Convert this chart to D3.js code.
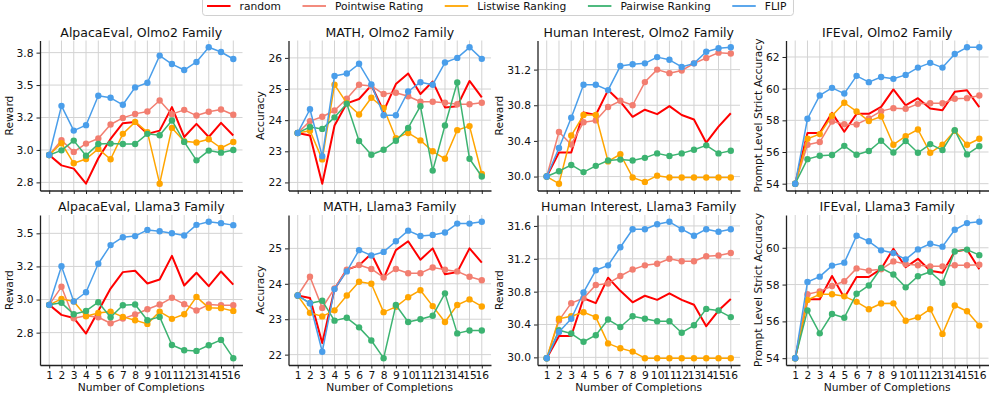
<!DOCTYPE html>
<html>
<head>
<meta charset="utf-8">
<script src="https://cdn.jsdelivr.net/npm/d3@7"></script>
<style>
  body { margin: 0; background: #fff; }
  svg { font-family: "DejaVu Sans", sans-serif; }
</style>
</head>
<body>
<svg id="chart" width="996" height="399"></svg>
<script>
// x categories
const completions = [1, 2, 3, 4, 5, 6, 7, 8, 9, 10, 11, 12, 13, 14, 15, 16];

const seriesNames = ["random", "Pointwise Rating", "Listwise Ranking", "Pairwise Ranking", "FLIP"];
const seriesColors = ["#ff0000", "#f27e70", "#ffa500", "#3cb371", "#4a9eea"];

// each panel: rows = random, pointwise, listwise, pairwise, FLIP
const alpacaOlmo2 = [
  [2.961, 2.881, 2.856, 2.740, 2.936, 3.085, 3.206, 3.216, 3.124, 3.149, 3.330, 3.100, 3.201, 3.100, 3.209, 3.111],
  [2.961, 3.075, 2.985, 3.049, 3.088, 3.196, 3.247, 3.278, 3.296, 3.381, 3.276, 3.309, 3.265, 3.294, 3.312, 3.271],
  [2.961, 3.052, 2.897, 2.930, 3.008, 2.928, 3.124, 3.216, 3.137, 2.740, 3.170, 3.067, 3.057, 3.082, 3.015, 3.062],
  [2.961, 2.997, 3.072, 2.956, 3.046, 3.049, 3.046, 3.046, 3.124, 3.113, 3.227, 3.062, 2.920, 2.995, 2.979, 3.000],
  [2.961, 3.340, 3.149, 3.191, 3.418, 3.402, 3.348, 3.482, 3.518, 3.727, 3.662, 3.616, 3.678, 3.791, 3.755, 3.701]
];
const mathOlmo2 = [
  [23.59, 23.51, 21.96, 23.83, 24.54, 24.68, 25.12, 24.29, 25.16, 25.50, 24.84, 25.24, 24.41, 24.45, 25.26, 24.73],
  [23.59, 23.97, 24.11, 24.31, 24.69, 25.14, 25.10, 24.84, 24.88, 24.77, 24.59, 24.59, 24.56, 24.51, 24.51, 24.56],
  [23.59, 23.66, 22.74, 25.14, 24.55, 24.18, 24.72, 24.39, 23.42, 23.59, 23.35, 23.00, 22.76, 23.68, 23.81, 22.27],
  [23.59, 23.78, 23.72, 24.09, 24.53, 23.33, 22.89, 23.05, 23.34, 23.75, 24.45, 22.38, 23.83, 25.21, 22.76, 22.19],
  [23.59, 24.35, 22.84, 25.42, 25.50, 25.81, 25.15, 24.16, 24.16, 24.92, 25.22, 25.14, 25.85, 26.00, 26.34, 25.97]
];
const humanOlmo2 = [
  [30.00, 30.27, 30.27, 30.72, 30.69, 30.97, 30.84, 30.67, 30.75, 30.70, 30.79, 30.69, 30.64, 30.38, 30.56, 30.71],
  [30.00, 30.50, 30.36, 30.61, 30.63, 30.78, 30.85, 30.80, 31.06, 31.20, 31.16, 31.19, 31.27, 31.33, 31.39, 31.38],
  [30.00, 29.92, 30.46, 30.69, 30.69, 30.17, 30.25, 29.99, 29.94, 30.01, 29.99, 29.99, 29.99, 29.99, 29.99, 29.99],
  [30.00, 30.06, 30.13, 30.05, 30.12, 30.18, 30.19, 30.18, 30.21, 30.26, 30.23, 30.26, 30.30, 30.35, 30.26, 30.29],
  [30.00, 30.32, 30.66, 31.03, 31.03, 30.97, 31.24, 31.26, 31.27, 31.34, 31.31, 31.23, 31.27, 31.40, 31.44, 31.45]
];
const ifevalOlmo2 = [
  [54.0, 57.20, 57.20, 58.47, 57.28, 58.41, 58.41, 58.85, 59.95, 58.94, 59.40, 58.75, 58.64, 59.80, 59.90, 58.83],
  [54.0, 56.46, 56.63, 57.93, 57.76, 57.74, 58.12, 58.58, 58.77, 58.73, 59.04, 59.08, 59.08, 59.36, 59.40, 59.57],
  [54.0, 56.84, 57.13, 58.29, 59.11, 58.56, 57.95, 58.24, 56.46, 57.00, 57.42, 55.95, 56.46, 57.34, 56.46, 56.84],
  [54.0, 55.55, 55.76, 55.81, 56.39, 55.83, 56.06, 56.71, 55.97, 56.69, 55.95, 56.50, 56.12, 57.38, 55.85, 56.37],
  [54.0, 58.10, 59.57, 60.05, 59.69, 60.81, 60.41, 60.74, 60.62, 60.87, 61.33, 61.63, 61.33, 62.19, 62.61, 62.61]
];
const alpacaLlama3 = [
  [2.960, 2.884, 2.861, 2.743, 2.914, 3.083, 3.207, 3.217, 3.121, 3.151, 3.330, 3.106, 3.202, 3.101, 3.212, 3.113],
  [2.960, 3.096, 2.859, 2.877, 2.866, 2.821, 2.856, 2.887, 2.927, 2.962, 3.013, 2.965, 2.917, 2.962, 2.957, 2.957],
  [2.960, 3.005, 2.985, 2.874, 2.899, 2.909, 2.869, 2.844, 2.816, 2.909, 2.854, 2.889, 3.020, 2.937, 2.935, 2.914],
  [2.960, 2.975, 2.889, 2.914, 2.980, 2.866, 2.957, 2.962, 2.844, 2.869, 2.657, 2.617, 2.612, 2.655, 2.695, 2.557],
  [2.960, 3.252, 2.985, 3.055, 3.270, 3.411, 3.471, 3.479, 3.526, 3.516, 3.501, 3.484, 3.564, 3.587, 3.577, 3.562]
];
const mathLlama3 = [
  [23.67, 23.60, 22.33, 23.85, 24.40, 24.52, 24.85, 24.15, 24.95, 25.20, 24.68, 25.00, 24.27, 24.33, 25.00, 24.60],
  [23.67, 24.20, 23.32, 23.87, 24.40, 24.53, 24.42, 24.18, 24.42, 24.30, 24.30, 24.46, 24.40, 24.35, 24.20, 24.10],
  [23.67, 23.18, 23.08, 23.25, 23.67, 24.06, 24.00, 23.20, 23.35, 23.62, 23.82, 23.37, 22.92, 23.40, 23.56, 23.36],
  [23.67, 23.45, 23.52, 22.96, 23.04, 22.77, 22.40, 21.90, 23.40, 22.92, 23.00, 23.10, 23.73, 22.60, 22.68, 22.68],
  [23.67, 23.45, 22.08, 23.85, 24.35, 24.95, 24.80, 24.90, 25.20, 25.50, 25.35, 25.38, 25.45, 25.70, 25.70, 25.75]
];
const humanLlama3 = [
  [29.99, 30.26, 30.26, 30.72, 30.66, 30.97, 30.81, 30.67, 30.75, 30.70, 30.78, 30.70, 30.64, 30.38, 30.57, 30.71],
  [29.99, 30.45, 30.66, 30.72, 30.88, 30.90, 30.99, 31.07, 31.12, 31.14, 31.20, 31.17, 31.17, 31.23, 31.24, 31.27],
  [29.99, 30.47, 30.50, 30.55, 30.49, 30.17, 30.11, 30.07, 29.99, 29.99, 29.99, 29.99, 29.99, 29.99, 29.99, 29.99],
  [29.99, 30.33, 30.29, 30.19, 30.27, 30.46, 30.37, 30.50, 30.47, 30.44, 30.44, 30.30, 30.39, 30.59, 30.57, 30.49],
  [29.99, 30.31, 30.47, 30.79, 31.06, 31.12, 31.34, 31.56, 31.56, 31.62, 31.65, 31.56, 31.48, 31.56, 31.53, 31.56]
];
const ifevalLlama3 = [
  [54.0, 57.20, 57.20, 58.47, 57.28, 58.41, 58.41, 58.85, 59.95, 58.94, 59.40, 58.75, 58.64, 59.80, 59.90, 58.83],
  [54.0, 57.47, 57.63, 57.92, 58.18, 58.88, 58.76, 58.83, 59.26, 59.12, 59.05, 58.99, 58.99, 59.05, 59.05, 59.08],
  [54.0, 57.16, 57.47, 57.47, 57.36, 57.06, 56.66, 56.97, 56.98, 56.03, 56.22, 56.66, 55.32, 56.86, 56.55, 55.77],
  [54.0, 56.60, 55.35, 56.40, 56.20, 57.50, 57.95, 58.90, 58.55, 57.85, 58.45, 58.70, 58.10, 59.80, 59.90, 59.60],
  [54.0, 58.14, 58.43, 59.03, 59.19, 60.65, 60.35, 59.86, 59.71, 59.37, 59.91, 60.22, 60.06, 60.98, 61.34, 61.41]
];

const panelData = [alpacaOlmo2, mathOlmo2, humanOlmo2, ifevalOlmo2, alpacaLlama3, mathLlama3, humanLlama3, ifevalLlama3];
const panelTitles = [
  "AlpacaEval, Olmo2 Family", "MATH, Olmo2 Family", "Human Interest, Olmo2 Family", "IFEval, Olmo2 Family",
  "AlpacaEval, Llama3 Family", "MATH, Llama3 Family", "Human Interest, Llama3 Family", "IFEval, Llama3 Family"
];
const panelYLabels = ["Reward", "Accuracy", "Reward", "Prompt Level Strict Accuracy",
                      "Reward", "Accuracy", "Reward", "Prompt Level Strict Accuracy"];
const panelYTicks = [
  [2.75, 3.0, 3.25, 3.5, 3.75], [22, 23, 24, 25, 26], [30.0, 30.4, 30.8, 31.2], [54, 56, 58, 60, 62],
  [2.75, 3.0, 3.25, 3.5], [22, 23, 24, 25], [30.0, 30.4, 30.8, 31.2, 31.6], [54, 56, 58, 60]
];
const panelYTickLabels = [
  ["2.8", "3.0", "3.2", "3.5", "3.8"], ["22", "23", "24", "25", "26"], ["30.0", "30.4", "30.8", "31.2"], ["54", "56", "58", "60", "62"],
  ["2.8", "3.0", "3.2", "3.5"], ["22", "23", "24", "25"], ["30.0", "30.4", "30.8", "31.2", "31.6"], ["54", "56", "58", "60"]
];

// layout
const colLeft = [40, 288.5, 537.5, 786];
const rowTop = [40.5, 215];
const pw = 202.5, ph = 150;

const svg = d3.select("#chart");
svg.append("rect").attr("width", 996).attr("height", 399).attr("fill", "#fff");

function padDomain(lo, hi) {
  const m = (hi - lo) * 0.05;
  return [lo - m, hi + m];
}

panelData.forEach((data, p) => {
  const row = Math.floor(p / 4), col = p % 4;
  const g = svg.append("g").attr("transform", `translate(${colLeft[col]},${rowTop[row]})`);

  const x = d3.scaleLinear()
    .domain(padDomain(d3.min(completions), d3.max(completions)))
    .range([0, pw]);
  const y = d3.scaleLinear()
    .domain(padDomain(d3.min(data, s => d3.min(s)), d3.max(data, s => d3.max(s))))
    .range([ph, 0]);

  // grid
  g.append("g").selectAll("line").data(completions).enter().append("line")
    .attr("x1", d => x(d)).attr("x2", d => x(d))
    .attr("y1", 0).attr("y2", ph)
    .attr("stroke", "#d3d3d3").attr("stroke-width", 1);
  g.append("g").selectAll("line").data(panelYTicks[p]).enter().append("line")
    .attr("x1", 0).attr("x2", pw)
    .attr("y1", d => y(d)).attr("y2", d => y(d))
    .attr("stroke", "#d3d3d3").attr("stroke-width", 1);

  // series
  const line = d3.line().x((d, i) => x(completions[i])).y(d => y(d));
  data.forEach((vals, s) => {
    g.append("path")
      .datum(vals)
      .attr("d", line)
      .attr("fill", "none")
      .attr("stroke", seriesColors[s])
      .attr("stroke-width", s === 0 ? 2 : 1.5)
      .attr("stroke-linejoin", "round");
    if (s > 0) {
      g.append("g").selectAll("circle").data(vals).enter().append("circle")
        .attr("cx", (d, i) => x(completions[i]))
        .attr("cy", d => y(d))
        .attr("r", 3.2)
        .attr("fill", seriesColors[s]);
    }
  });

  // axes
  const yLabels = panelYTickLabels[p];
  const yAxis = g.append("g")
    .call(d3.axisLeft(y)
      .tickValues(panelYTicks[p])
      .tickFormat((d, i) => yLabels[i])
      .tickSizeInner(3.5).tickSizeOuter(0).tickPadding(3));
  const xAxis = g.append("g")
    .attr("transform", `translate(0,${ph})`)
    .call(d3.axisBottom(x)
      .tickValues(completions)
      .tickFormat(row === 1 ? d3.format("d") : () => "")
      .tickSizeInner(3.5).tickSizeOuter(0).tickPadding(3));
  [yAxis, xAxis].forEach(a => {
    a.select(".domain").attr("stroke", "#222").attr("stroke-width", 1.3);
    a.selectAll(".tick line").attr("stroke", "#222").attr("stroke-width", 1);
    a.selectAll("text").attr("font-size", "10.7px").attr("fill", "#111")
      .attr("font-family", "DejaVu Sans, sans-serif");
  });

  // title
  g.append("text")
    .attr("x", pw / 2).attr("y", -4)
    .attr("text-anchor", "middle")
    .attr("font-size", "12.5px")
    .attr("fill", "#111")
    .text(panelTitles[p]);

  // y label
  const bb = yAxis.node().getBBox();
  g.append("text")
    .attr("transform", `translate(${bb.x - 4},${ph / 2}) rotate(-90)`)
    .attr("text-anchor", "middle")
    .attr("font-size", "10.7px")
    .attr("fill", "#111")
    .text(panelYLabels[p]);

  if (row === 1) {
    g.append("text")
      .attr("x", pw / 2).attr("y", ph + 26)
      .attr("text-anchor", "middle")
      .attr("font-size", "10.7px")
      .attr("fill", "#111")
      .text("Number of Completions");
  }
});

// legend
const legend = svg.append("g");
const legBox = legend.append("rect");
const entries = legend.selectAll("g.entry").data(seriesNames).enter().append("g").attr("class", "entry");
entries.append("line")
  .attr("x1", 0).attr("x2", 23.5).attr("y1", 6).attr("y2", 6)
  .attr("stroke", (d, i) => seriesColors[i])
  .attr("stroke-width", (d, i) => i === 0 ? 2 : 1.8);
entries.append("text")
  .attr("x", 32.5).attr("y", 10)
  .attr("font-size", "10.7px").attr("fill", "#111")
  .text(d => d);

let cursor = 4.5;
entries.each(function () {
  const tw = d3.select(this).select("text").node().getComputedTextLength();
  d3.select(this).attr("transform", `translate(${cursor},0)`);
  cursor += 32.5 + tw + 21.5;
});
const legWidth = cursor - 21.5 + 7;
const legLeft = 996 / 2 - legWidth / 2;
legend.attr("transform", `translate(${legLeft},0)`);
legBox.attr("x", 0).attr("y", -8).attr("width", legWidth).attr("height", 23.5)
  .attr("rx", 3).attr("fill", "#fff").attr("stroke", "#d0d0d0").attr("stroke-width", 1);
</script>
</body>
</html>
